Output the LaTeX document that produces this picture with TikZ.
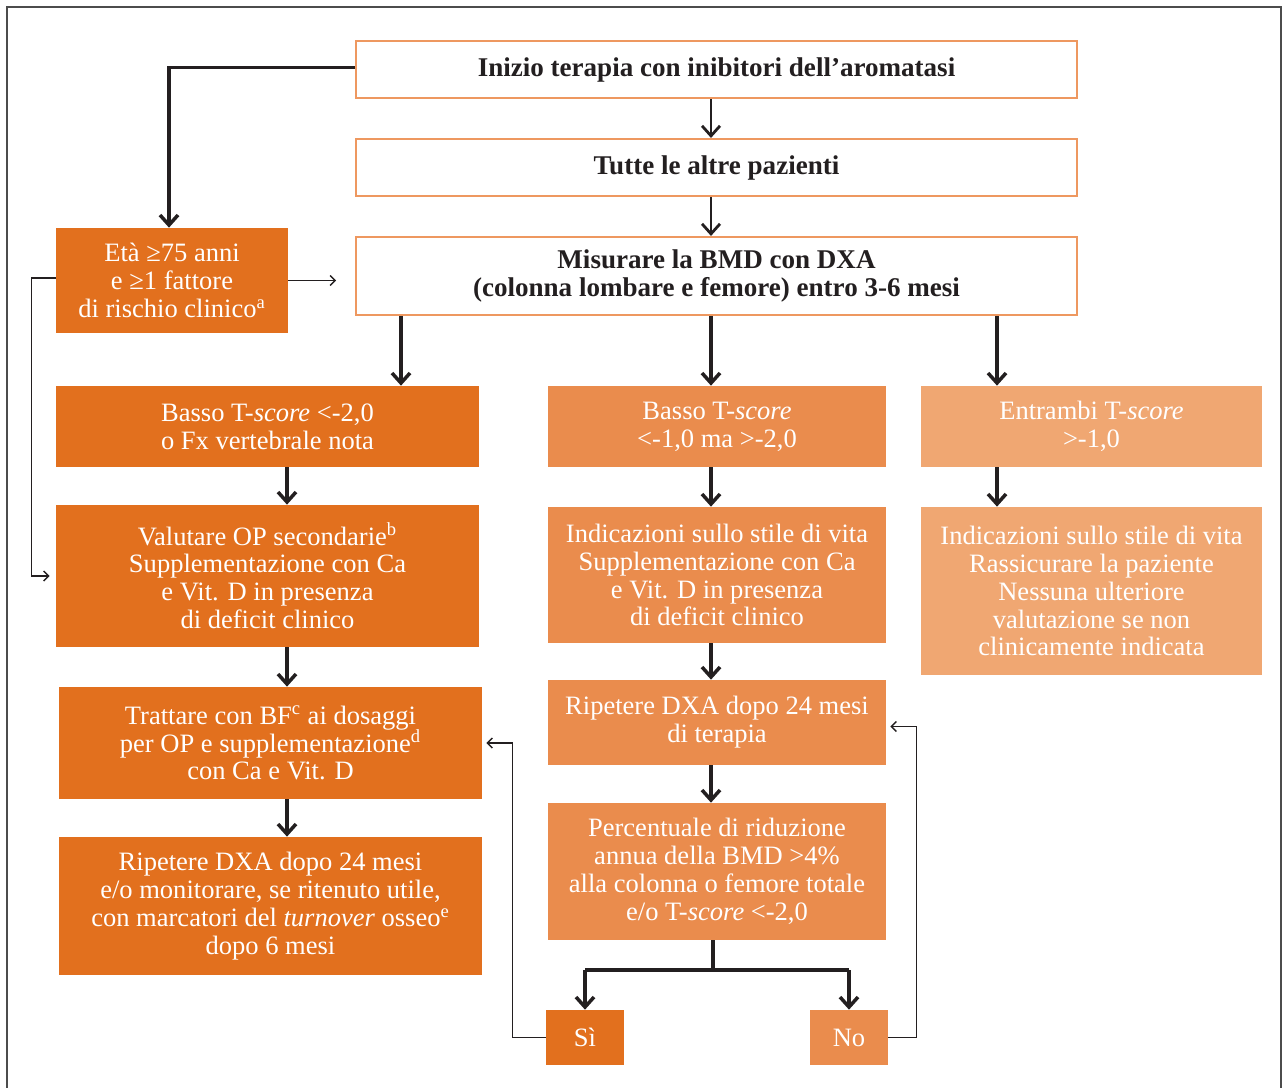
\documentclass[tikz,border=0pt]{standalone}
\usepackage{fontspec}
\setmainfont{Liberation Serif}
\usetikzlibrary{arrows.meta,positioning}
\definecolor{orDark}{HTML}{E2701E}
\definecolor{orMid}{HTML}{EA8C4D}
\definecolor{orLight}{HTML}{F0A772}
\definecolor{orLine}{HTML}{EE9860}
\definecolor{ink}{HTML}{231F20}
\begin{document}
\begin{tikzpicture}[x=0.02cm,y=-0.02cm,
  txt/.style={align=center,inner sep=0pt,font=\fontsize{15.1}{15.9}\selectfont},
  whitebox/.style={txt,draw=orLine,line width=1.2pt,fill=white,text=ink,
    font=\fontsize{15.4}{15.9}\selectfont\bfseries},
  darkbox/.style={txt,fill=orDark,text=white},
  midbox/.style={txt,fill=orMid,text=white},
  lightbox/.style={txt,fill=orLight,text=white},
  sz/.style n args={2}{minimum width=#1*0.02cm,minimum height=#2*0.02cm},
  arr/.style={draw=ink,line width=2.2pt,-{Straight Barb[length=2mm,width=3.6mm,line width=2pt]}},
  arrmid/.style={draw=ink,line width=1.6pt,-{Straight Barb[length=2mm,width=3.6mm,line width=1.6pt]}},
  thinarr/.style={draw=ink,line width=0.9pt,-{Straight Barb[length=1mm,width=2mm,line width=0.8pt]}}]
\useasboundingbox (0,0) rectangle (1284,1088);
% outer frame
\draw[gray!60!black,line width=1.2pt] (7,1088) -- (7,7) -- (1281,7) -- (1281,1088);
% top boxes
\node[whitebox,sz={721}{57}] (start) at (716.5,69.5) {Inizio terapia con inibitori dell’aromatasi};
\node[whitebox,sz={721}{57}] (altre) at (716.5,167.5) {Tutte le altre pazienti};
\node[whitebox,sz={721}{78}] (bmd) at (716.5,276) {Misurare la BMD con DXA\\(colonna lombare e femore) entro 3-6 mesi};
\node[darkbox,sz={232}{105}] (eta) at (172,280.5) {Età ≥75 anni\\e ≥1 fattore\\di rischio clinico\textsuperscript{a}};
% left column
\node[darkbox,sz={423}{81}] (lowA) at (267.5,426.5) {Basso T-\textit{score} <-2,0\\o Fx vertebrale nota};
\node[darkbox,sz={423}{142}] (valA) at (267.5,576) {Valutare OP secondarie\textsuperscript{b}\\Supplementazione con Ca\\e Vit. D in presenza\\di deficit clinico};
\node[darkbox,sz={423}{112}] (tratA) at (270.5,743) {Trattare con BF\textsuperscript{c} ai dosaggi\\per OP e supplementazione\textsuperscript{d}\\con Ca e Vit. D};
\node[darkbox,sz={423}{138}] (ripA) at (270.5,906) {Ripetere DXA dopo 24 mesi\\e/o monitorare, se ritenuto utile,\\con marcatori del \textit{turnover} osseo\textsuperscript{e}\\dopo 6 mesi};
% middle column
\node[midbox,sz={338}{81}] (lowB) at (717,426.5) {Basso T-\textit{score}\\<-1,0 ma >-2,0};
\node[midbox,sz={338}{136}] (indB) at (717,575) {Indicazioni sullo stile di vita\\Supplementazione con Ca\\e Vit. D in presenza\\di deficit clinico};
\node[midbox,sz={338}{85}] (ripB) at (717,722.5) {Ripetere DXA dopo 24 mesi\\di terapia};
\node[midbox,sz={338}{137}] (percB) at (717,871.5) {Percentuale di riduzione\\annua della BMD >4\%\\alla colonna o femore totale\\e/o T-\textit{score} <-2,0};
\node[darkbox,sz={78}{55}] (si) at (585,1037.5) {Sì};
\node[midbox,sz={78}{55}] (no) at (849,1037.5) {No};
% right column
\node[lightbox,sz={341}{81}] (entC) at (1091.5,426.5) {Entrambi T-\textit{score}\\>-1,0};
\node[lightbox,sz={341}{168}] (indC) at (1091.5,591) {Indicazioni sullo stile di vita\\Rassicurare la paziente\\Nessuna ulteriore\\valutazione se non\\clinicamente indicata};
% connectors
\draw[arr] ([yshift=0.04cm]start.west) -| (169,0 |- eta.north);
\draw[arrmid] (start.south -| 711,0) -- (altre.north -| 711,0);
\draw[arrmid] (altre.south -| 711,0) -- (bmd.north -| 711,0);
\draw[thinarr] (eta.east) -- (eta.east -| 336,0);
\draw[thinarr] ([yshift=0.05cm]eta.west) -- ++(-24,0) |- ([xshift=-6*0.02cm]valA.west);
\draw[arr] (bmd.south -| 401,0) -- (lowA.north -| 401,0);
\draw[arr] (bmd.south -| 711,0) -- (lowB.north -| 711,0);
\draw[arr] (bmd.south -| 997,0) -- (entC.north -| 997,0);
\draw[arr] (lowA.south -| 287,0) -- (valA.north -| 287,0);
\draw[arr] (valA.south -| 287,0) -- (tratA.north -| 287,0);
\draw[arr] (tratA.south -| 287,0) -- (ripA.north -| 287,0);
\draw[arr] (lowB.south -| 711,0) -- (indB.north -| 711,0);
\draw[arr] (indB.south -| 711,0) -- (ripB.north -| 711,0);
\draw[arr] (ripB.south -| 711,0) -- (percB.north -| 711,0);
\draw[arr] (entC.south -| 997,0) -- (indC.north -| 997,0);
\draw[line width=2.2pt,ink] (percB.south -| 713,0) -- ++(0,30) coordinate (fork);
\draw[arr] (fork -| si.north) -- (si.north);
\draw[arr] (fork -| no.north) -- (no.north);
\draw[line width=2.2pt,ink] (fork -| si.north) -- (fork -| no.north);
\draw[thinarr] (si.west) -- ++(-33,0) |- ([xshift=4*0.02cm]tratA.east);
\draw[thinarr] (no.east) -- ++(28,0) |- ([xshift=4*0.02cm,yshift=-0.08cm]ripB.east);
\end{tikzpicture}
\end{document}
